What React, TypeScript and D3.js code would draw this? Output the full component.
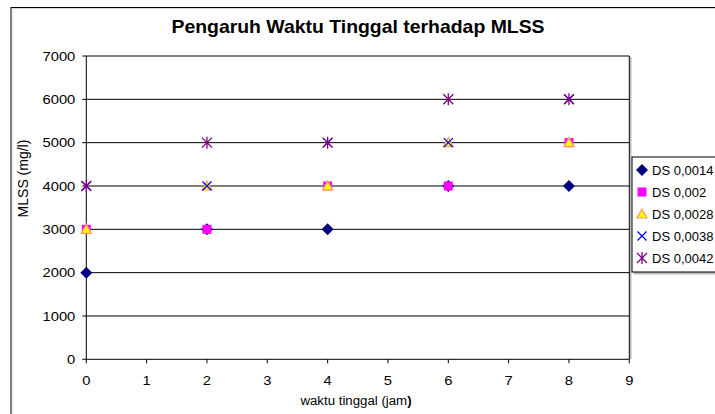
import React from "react";
import * as d3 from "d3";

const xValues = [0, 2, 4, 6, 8];
const seriesNames = ["DS 0,0014", "DS 0,002", "DS 0,0028", "DS 0,0038", "DS 0,0042"];
const ds0014 = [2000, 3000, 3000, 4000, 4000];
const ds002 = [3000, 3000, 4000, 4000, 5000];
const ds0028 = [3000, 4000, 4000, 5000, 5000];
const ds0038 = [4000, 4000, 5000, 5000, 6000];
const ds0042 = [4000, 5000, 5000, 6000, 6000];
const seriesValues = [ds0014, ds002, ds0028, ds0038, ds0042];
const xTicks = [0, 1, 2, 3, 4, 5, 6, 7, 8, 9];
const yTicks = [0, 1000, 2000, 3000, 4000, 5000, 6000, 7000];

const FONT = "'Liberation Sans', Arial, sans-serif";

function Marker({ kind, x, y }: { kind: number; x: number; y: number }) {
  if (kind === 0) {
    const r = 6;
    return <path d={`M${x},${y - r}L${x + r},${y}L${x},${y + r}L${x - r},${y}Z`} fill="#000080" />;
  }
  if (kind === 1) {
    const r = 4.5;
    return <rect x={x - r} y={y - r} width={2 * r} height={2 * r} fill="#FF00FF" />;
  }
  if (kind === 2) {
    const r = 5;
    return (
      <path
        d={`M${x},${y - r}L${x + r},${y + r * 0.8}L${x - r},${y + r * 0.8}Z`}
        fill="#FFFF00"
        stroke="#FF9966"
        strokeWidth={1.2}
      />
    );
  }
  if (kind === 3) {
    const r = 4.5;
    return (
      <path
        d={`M${x - r},${y - r}L${x + r},${y + r}M${x - r},${y + r}L${x + r},${y - r}`}
        stroke="#0000FF"
        strokeWidth={1.3}
        fill="none"
      />
    );
  }
  const r = 5;
  return (
    <path
      d={`M${x - r},${y - r}L${x + r},${y + r}M${x - r},${y + r}L${x + r},${y - r}M${x},${y - r - 1}L${x},${y + r + 1}`}
      stroke="#800080"
      strokeWidth={1.3}
      fill="none"
    />
  );
}

function T({
  x,
  y,
  sx = 1,
  size,
  anchor = "start",
  weight = "normal",
  children,
}: {
  x: number;
  y: number;
  sx?: number;
  size: number;
  anchor?: string;
  weight?: string;
  children: React.ReactNode;
}) {
  return (
    <text
      transform={`translate(${x},${y}) scale(${sx},1)`}
      textAnchor={anchor as any}
      fontSize={size}
      fontWeight={weight}
      fill="#000"
    >
      {children}
    </text>
  );
}

export default function App() {
  const W = 715;
  const H = 414;
  const left = 86.3;
  const right = 629.3;
  const top = 56;
  const bottom = 359.3;
  const x = d3.scaleLinear().domain([0, 9]).range([left, right]);
  const y = d3.scaleLinear().domain([0, 7000]).range([bottom, top]);

  return (
    <svg
      width={W}
      height={H}
      style={{ position: "absolute", left: 0, top: 0, display: "block", background: "#fff" }}
      fontFamily={FONT}
    >
      <rect x={0} y={0} width={W} height={H} fill="#fff" />
      {/* outer chart border */}
      <rect x={11} y={7.5} width={W + 20} height={H + 20} fill="none" stroke="#000" strokeWidth={1} />
      <rect x={12} y={8.5} width={W + 20} height={H + 20} fill="none" stroke="#999" strokeWidth={0.6} opacity={0.6} />

      <T x={358} y={33.3} sx={1.11} size={17.5} anchor="middle" weight="bold">
        Pengaruh Waktu Tinggal terhadap MLSS
      </T>

      {/* plot area shadow */}
      <line x1={right + 1.5} y1={top + 1} x2={right + 1.5} y2={bottom} stroke="#bbb" strokeWidth={1.5} />

      {/* gridlines */}
      {yTicks.map((t) => (
        <line key={"g" + t} x1={left} x2={right} y1={y(t)} y2={y(t)} stroke="#000" strokeWidth={1} />
      ))}
      <line x1={right} x2={right} y1={top} y2={bottom} stroke="#000" strokeWidth={1} />
      <line x1={left} x2={left} y1={top} y2={bottom} stroke="#000" strokeWidth={1} />

      {/* y ticks */}
      {yTicks.map((t) => (
        <g key={"y" + t}>
          <line x1={left - 4} x2={left} y1={y(t)} y2={y(t)} stroke="#000" />
          <T x={left - 11} y={y(t) + 4.6} sx={1.18} size={12.5} anchor="end">
            {t}
          </T>
        </g>
      ))}
      {/* x ticks */}
      {xTicks.map((t) => (
        <g key={"x" + t}>
          <line x1={x(t)} x2={x(t)} y1={bottom} y2={bottom + 4} stroke="#000" />
          <T x={x(t)} y={bottom + 26} sx={1.18} size={12.5} anchor="middle">
            {t}
          </T>
        </g>
      ))}

      <T x={356} y={405} sx={1.06} size={12.5} anchor="middle">
        waktu tinggal (jam<tspan fontWeight="bold">)</tspan>
      </T>
      <text
        transform={`translate(28,178.5) rotate(-90)`}
        textAnchor="middle"
        fontSize={14}
        fill="#000"
      >
        MLSS (mg/l)
      </text>

      {/* data */}
      {seriesValues.map((vals, si) => (
        <g key={"s" + si}>
          {vals.map((v, i) => (
            <Marker key={i} kind={si} x={x(xValues[i])} y={y(v)} />
          ))}
        </g>
      ))}

      {/* legend */}
      <rect x={633.5} y={158.5} width={100} height={116} fill="#bbb" />
      <rect x={632} y={157} width={100} height={115} fill="#fff" stroke="#000" strokeWidth={1} />
      {seriesNames.map((n, i) => {
        const ly = 170 + i * 22;
        return (
          <g key={"l" + i}>
            <Marker kind={i} x={642} y={ly} />
            <T x={652} y={ly + 5} sx={1.0} size={13}>
              {n}
            </T>
          </g>
        );
      })}
    </svg>
  );
}
